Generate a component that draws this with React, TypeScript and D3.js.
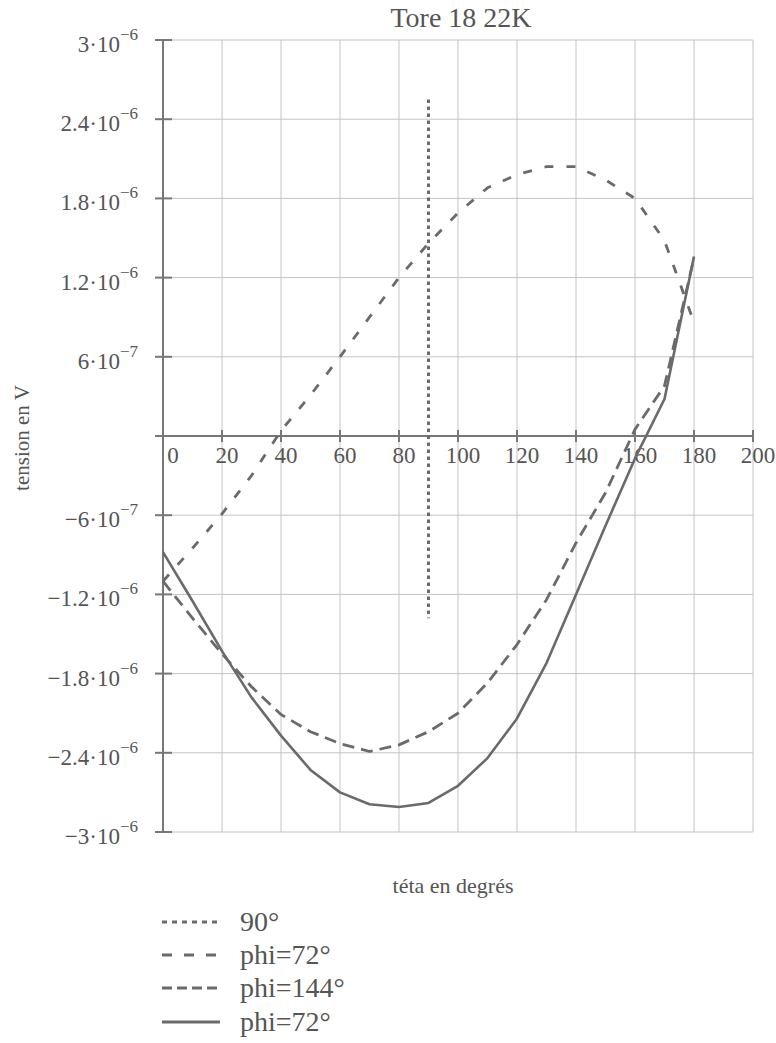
import React from "react";
import * as d3 from "d3";

// ---- data (values in 1e-6 V) ----
const theta = [0, 10, 20, 30, 40, 50, 60, 70, 80, 90, 100, 110, 120, 130, 140, 150, 160, 170, 180];
const phi72a = [-1.10, -0.85, -0.59, -0.30, 0.04, 0.31, 0.60, 0.90, 1.20, 1.46, 1.69, 1.88, 1.98, 2.04, 2.04, 1.94, 1.80, 1.48, 0.86];
const phi144 = [-1.10, -1.38, -1.65, -1.90, -2.11, -2.24, -2.33, -2.39, -2.34, -2.24, -2.10, -1.87, -1.58, -1.24, -0.81, -0.43, 0.05, 0.38, 1.35];
const phi72b = [-0.88, -1.25, -1.63, -1.98, -2.27, -2.53, -2.70, -2.79, -2.81, -2.78, -2.65, -2.44, -2.14, -1.72, -1.20, -0.68, -0.17, 0.28, 1.36];
const line90Theta = [90, 90];
const line90Values = [2.55, -1.38];

const xTicks = [0, 20, 40, 60, 80, 100, 120, 140, 160, 180, 200];
const yTicks = [3, 2.4, 1.8, 1.2, 0.6, 0, -0.6, -1.2, -1.8, -2.4, -3];
const yTickMantissa = ["3", "2.4", "1.8", "1.2", "6", "", "\u22126", "\u22121.2", "\u22121.8", "\u22122.4", "\u22123"];
const yTickExponent = ["\u22126", "\u22126", "\u22126", "\u22126", "\u22127", "", "\u22127", "\u22126", "\u22126", "\u22126", "\u22126"];

const legendLabels = ["90\u00b0", "phi=72\u00b0", "phi=144\u00b0", "phi=72\u00b0"];

const TITLE = "Tore 18 22K";
const XLABEL = "t\u00e9ta en degr\u00e9s";
const YLABEL = "tension en V";

export default function App() {
  const W = 776, H = 1043;
  const x = d3.scaleLinear().domain([0, 200]).range([163, 753]);
  const y = d3.scaleLinear().domain([-3, 3]).range([832, 40]);
  const line = d3.line<[number, number]>().x(d => x(d[0])).y(d => y(d[1]));

  const mk = (vals: number[], th: number[] = theta) => line(th.map((t, i) => [t, vals[i]] as [number, number])) || "";

  const gray = "#6a6a6a";
  const textCol = "#555";
  const fontStyle = { fontFamily: '"Liberation Serif", "Times New Roman", "DejaVu Serif", serif' };

  const series = [
    { d: mk(line90Values, line90Theta), dash: "3.5,3.5", legDash: "5,5", w: 3 },
    { d: mk(phi72a), dash: "9,13", legDash: "10,12", w: 2.8 },
    { d: mk(phi144), dash: "12,7", legDash: "10,5", w: 2.8 },
    { d: mk(phi72b), dash: "", legDash: "", w: 2.6 },
  ];

  const legendY = [922, 955, 988, 1022];

  return (
    <svg width={W} height={H} style={{ position: "fixed", left: 0, top: 0, background: "#fff", ...fontStyle }}>
      <rect x={0} y={0} width={W} height={H} fill="#fff" />
      {/* grid */}
      {yTicks.map((t, i) => (
        <line key={"gy" + i} x1={x(0)} x2={x(200)} y1={y(t)} y2={y(t)} stroke="#c4c4c4" strokeWidth={1} />
      ))}
      {xTicks.filter(t => t !== 0).map((t, i) => (
        <line key={"gx" + i} x1={x(t)} x2={x(t)} y1={y(3)} y2={y(-3)} stroke="#c4c4c4" strokeWidth={1} />
      ))}
      {/* axes */}
      <line x1={x(0)} x2={x(0)} y1={y(3)} y2={y(-3)} stroke="#777" strokeWidth={2} />
      <line x1={x(0)} x2={x(200)} y1={y(0)} y2={y(0)} stroke="#777" strokeWidth={2} />
      {yTicks.map((t, i) => (
        <line key={"ty" + i} x1={x(0) - 8} x2={x(0) + 9} y1={y(t)} y2={y(t)} stroke="#777" strokeWidth={2} />
      ))}
      {xTicks.map((t, i) => (
        <line key={"tx" + i} x1={x(t)} x2={x(t)} y1={y(0) - 6} y2={y(0) + 6} stroke="#777" strokeWidth={2} />
      ))}
      {/* y tick labels */}
      {yTicks.map((t, i) =>
        yTickMantissa[i] ? (
          <g key={"ly" + i} fill={textCol} style={fontStyle}>
            <text x={120} y={y(t) + 12} fontSize={23} textAnchor="end" style={fontStyle}>{yTickMantissa[i] + "\u00b710"}</text>
            <text x={120} y={y(t) + 0} fontSize={17} textAnchor="start" style={fontStyle}>{yTickExponent[i]}</text>
          </g>
        ) : null
      )}
      {/* x tick labels */}
      {xTicks.map((t, i) => (
        <text key={"lx" + i} x={x(t) + (t === 0 ? 10 : 5)} y={y(0) + 27} fontSize={23} textAnchor="middle" fill={textCol} style={fontStyle}>{t}</text>
      ))}
      {/* series */}
      {series.map((s, i) => (
        <path key={"s" + i} d={s.d} fill="none" stroke={gray} strokeWidth={s.w} strokeDasharray={s.dash || undefined} strokeLinejoin="round" />
      ))}
      {/* title & labels */}
      <text x={461} y={27} fontSize={28} textAnchor="middle" fill={textCol} style={fontStyle}>{TITLE}</text>
      <text transform="translate(29,438) rotate(-90)" fontSize={21} textAnchor="middle" fill={textCol} style={fontStyle}>{YLABEL}</text>
      <text x={453} y={893} fontSize={22} textAnchor="middle" fill={textCol} style={fontStyle}>{XLABEL}</text>
      {/* legend */}
      {series.map((s, i) => (
        <g key={"lg" + i}>
          <line x1={162} x2={220} y1={legendY[i]} y2={legendY[i]} stroke={gray} strokeWidth={3} strokeDasharray={s.legDash || undefined} />
          <text x={240} y={legendY[i] + 9} fontSize={28} fill={textCol} style={fontStyle}>{legendLabels[i]}</text>
        </g>
      ))}
    </svg>
  );
}
